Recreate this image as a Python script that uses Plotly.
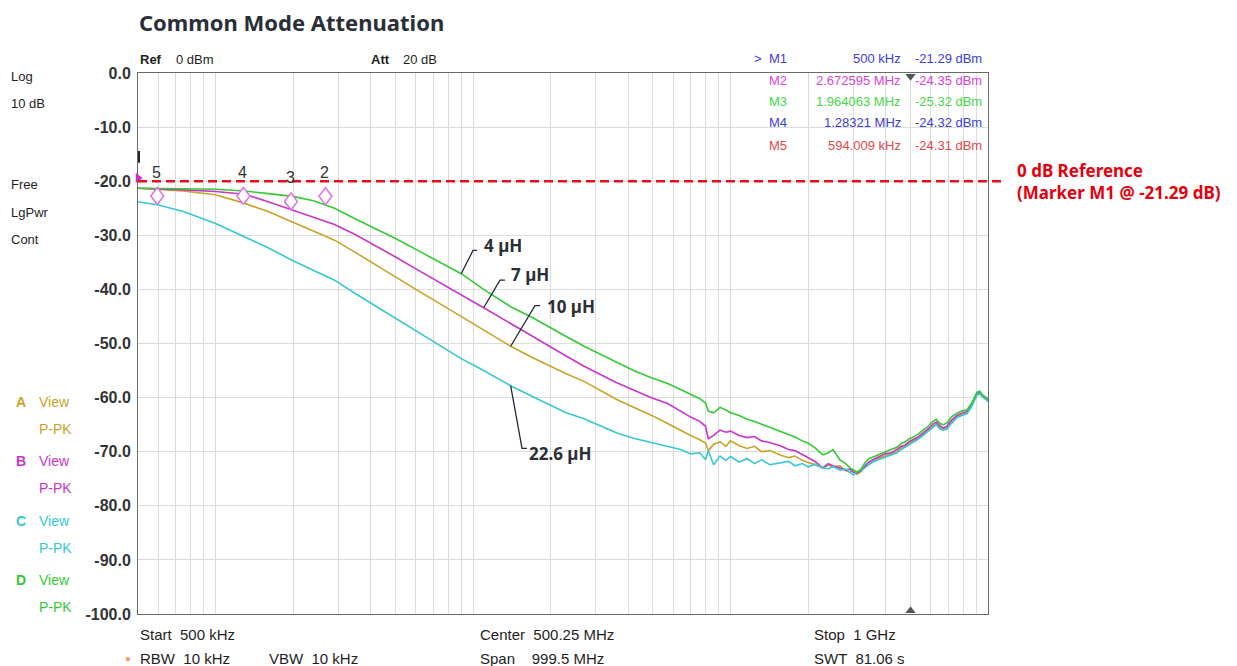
import math
import plotly.graph_objects as go

# ---- sweep data: frequency (MHz) and trace levels (dBm) ----
FREQ_MHZ = [0.5, 0.6, 0.75, 1.0, 1.3, 1.6, 2.0, 2.4, 2.9, 3.5,
            4.0, 5.0, 6.0, 7.0, 9.0, 11, 14, 17, 20, 23,
            27, 31, 36, 42, 49, 57, 64, 70, 76, 80,
            82, 86, 91, 96, 100, 108, 116, 124, 132, 142,
            156, 168, 178, 190, 200, 213, 228, 240, 250, 266,
            280, 291, 300, 310, 322, 333, 345, 357, 375, 398,
            420, 443, 460, 476, 495, 512, 535, 560, 585, 611,
            630, 651, 670, 693, 720, 758, 790, 828, 865, 906,
            930, 948, 975, 1000]

# Trace A: 10 uH
TRACE_A_10UH = [-21.3, -21.5, -21.8, -22.5, -24.1, -25.6, -27.6, -29.2, -30.9, -33.2,
                -34.9, -37.8, -40.0, -41.9, -45.0, -47.6, -50.5, -52.6, -54.2, -55.6,
                -57.0, -58.6, -60.3, -61.8, -63.2, -64.8, -66.1, -67.0, -67.8, -68.4,
                -69.8, -68.6, -68.2, -69.0, -68.0, -68.9, -69.4, -69.0, -70.0, -69.8,
                -70.6, -71.1, -70.8, -71.6, -72.0, -72.4, -73.0, -72.5, -72.8, -72.6,
                -73.5, -73.8, -73.3, -74.2, -73.6, -72.8, -72.3, -71.7, -71.2, -70.8,
                -70.3, -70.0, -69.3, -69.0, -68.4, -68.0, -67.5, -66.8, -66.0, -65.2,
                -64.8, -65.5, -65.8, -65.5, -64.5, -63.5, -63.2, -62.8, -61.5, -59.4,
                -59.2, -59.7, -60.1, -60.6]

# Trace B: 7 uH
TRACE_B_7UH = [-21.3, -21.4, -21.6, -21.9, -22.4, -23.8, -25.4, -26.6, -28.0, -29.9,
               -31.4, -34.0, -36.2, -38.0, -41.0, -43.4, -46.3, -48.7, -50.6, -52.3,
               -54.2, -55.6, -57.2, -58.6, -60.0, -61.1, -62.6, -63.6, -64.4, -65.3,
               -67.6, -67.0, -66.0, -66.4, -66.2, -67.0, -67.4, -67.2, -68.0, -68.3,
               -68.9, -69.6, -69.8, -70.5, -71.1, -71.8, -73.0, -72.2, -72.6, -73.0,
               -73.4, -73.2, -73.8, -74.0, -73.5, -72.6, -71.9, -71.5, -71.0, -70.4,
               -70.2, -69.6, -69.0, -68.8, -68.1, -67.8, -67.3, -66.5, -65.8, -64.9,
               -64.5, -65.2, -65.6, -65.3, -64.2, -63.3, -62.9, -62.6, -61.3, -59.3,
               -59.0, -59.6, -60.0, -60.4]

# Trace C: 22.6 uH
TRACE_C_22UH = [-23.8, -24.4, -25.6, -27.8, -30.3, -32.3, -34.7, -36.4, -38.3, -40.8,
                -42.5, -45.2, -47.6, -49.5, -52.8, -55.0, -57.8, -59.8, -61.4, -62.8,
                -63.9, -65.2, -66.5, -67.5, -68.3, -69.0, -69.6, -70.4, -70.2, -71.5,
                -69.8, -72.4, -70.8, -71.6, -70.9, -71.9, -71.3, -72.2, -71.5, -72.4,
                -72.0, -71.8, -72.6, -72.2, -72.8, -72.3, -72.9, -73.2, -72.7, -73.4,
                -73.2, -73.9, -74.3, -73.8, -73.4, -73.0, -72.4, -71.9, -71.5, -71.0,
                -70.6, -70.2, -69.6, -69.2, -68.7, -68.2, -67.7, -67.0, -66.2, -65.4,
                -65.0, -65.8, -66.0, -65.8, -64.8, -63.7, -63.3, -63.0, -61.6, -59.5,
                -59.3, -59.8, -60.2, -60.7]

# Trace D: 4 uH
TRACE_D_4UH = [-21.3, -21.3, -21.4, -21.5, -21.8, -22.3, -22.8, -23.6, -25.0, -27.0,
               -28.3, -30.6, -32.6, -34.3, -37.1, -40.0, -43.2, -45.2, -47.0, -48.7,
               -50.5, -51.9, -53.5, -55.0, -56.3, -57.4, -58.5, -59.4, -60.2, -61.0,
               -62.5, -62.8, -61.8, -62.3, -62.8, -63.3, -64.0, -64.4, -64.9, -65.5,
               -66.2, -66.9, -67.3, -68.0, -68.4, -69.3, -70.6, -70.2, -69.6, -71.5,
               -72.2, -73.0, -73.4, -73.8, -73.2, -72.0, -71.3, -71.0, -70.5, -70.0,
               -69.6, -69.2, -68.5, -68.2, -67.6, -67.3, -66.8, -66.0, -65.3, -64.4,
               -64.0, -64.8, -65.0, -64.7, -63.6, -62.9, -62.5, -62.3, -61.0, -59.0,
               -58.8, -59.4, -59.8, -60.3]

TRACE_LETTERS = ["A", "B", "C", "D"]
TRACE_LABELS = ["10 µH", "7 µH", "22.6 µH", "4 µH"]
TRACE_VALUES = [TRACE_A_10UH, TRACE_B_7UH, TRACE_C_22UH, TRACE_D_4UH]
TRACE_COLORS = ["#c9a227", "#c935c9", "#35c8d2", "#35c935"]

# Marker table
MARKER_NAMES = ["M1", "M2", "M3", "M4", "M5"]
MARKER_FREQ_MHZ = [0.5, 2.672595, 1.964063, 1.28321, 0.594009]
MARKER_LEVEL_DBM = [-21.29, -24.35, -25.32, -24.32, -24.31]
MARKER_COLORS = ["#3d3dd6", "#d646d6", "#46d646", "#3d3dd6", "#e04848"]

Y_TICKS = [0, -10, -20, -30, -40, -50, -60, -70, -80, -90, -100]
REF_LINE_DB = -20.0
CENTER_MHZ = 500.25

# ---- page geometry ----
W, H = 1237, 666
L, R, T, B = 138, 988, 73, 614
PX_PER_DECADE = (R - L) / math.log10(1000 / 0.5)
PX_PER_DB = (B - T) / 100.0


def px(x):
    return (x - L) / (R - L)


def py(y):
    return (B - y) / (B - T)


def fmt_freq(mhz):
    if mhz < 1:
        return f"{mhz * 1000:.7g} kHz"
    return f"{mhz:.7g} MHz"


UI_FONT = "Liberation Sans"
HEAD_FONT = "Noto Sans"
INK = "#1e1e1e"

fig = go.Figure()

for letter, label, vals, col in zip(TRACE_LETTERS, TRACE_LABELS, TRACE_VALUES, TRACE_COLORS):
    fig.add_trace(go.Scatter(
        x=FREQ_MHZ, y=vals, mode="lines", name=f"{letter}: {label}",
        line=dict(color=col, width=1.6), showlegend=False, hoverinfo="x+y"))

# reference line (extends past the grid toward its label)
fig.add_shape(type="line", xref="paper", yref="y", x0=0, x1=px(1006),
              y0=REF_LINE_DB, y1=REF_LINE_DB,
              line=dict(color="#e5101c", width=2.4, dash="9px,5px"))

# short display marker at the left edge
fig.add_shape(type="line", xref="paper", yref="y", x0=px(139), x1=px(139),
              y0=-14.4, y1=-16.6, line=dict(color="#222", width=2))

# marker diamonds M2..M5: open diamonds whose lower tip sits on the marker level
HALF_W_PX, HALF_H_PX = 6.5, 8.5
kx = 10 ** (HALF_W_PX / PX_PER_DECADE)
hy = HALF_H_PX / PX_PER_DB
for f, v in zip(MARKER_FREQ_MHZ[1:], MARKER_LEVEL_DBM[1:]):
    cy = v + hy
    fig.add_trace(go.Scatter(
        x=[f, f * kx, f, f / kx, f], y=[v, cy, cy + hy, cy, v],
        mode="lines", fill="toself", fillcolor="white", showlegend=False,
        hoverinfo="skip", line=dict(color="#e46ee4", width=1.5)))

# M1 indicator at the left edge
fig.add_trace(go.Scatter(
    x=[MARKER_FREQ_MHZ[0]], y=[MARKER_LEVEL_DBM[0] + 1.9], mode="markers",
    showlegend=False, cliponaxis=False, hoverinfo="skip",
    marker=dict(symbol="triangle-right", size=9, color="#e020e0")))

# center-frequency indicators on the top and bottom frame
fig.add_trace(go.Scatter(
    x=[CENTER_MHZ, CENTER_MHZ], y=[-0.6, -99.4], mode="markers",
    showlegend=False, cliponaxis=False, hoverinfo="skip",
    marker=dict(symbol=["triangle-down", "triangle-up"], size=9, color="#555")))

ann = []

# marker numbers above the diamonds
for name, f, v in zip(MARKER_NAMES[1:], MARKER_FREQ_MHZ[1:], MARKER_LEVEL_DBM[1:]):
    ann.append(dict(x=math.log10(f), y=v, xref="x", yref="y", text=name[1:],
                    showarrow=False, yshift=32, xshift=-1,
                    font=dict(family=UI_FONT, size=16, color="#333")))

# inductance call-outs with elbow leaders
LEADER_START_MHZ = [14, 11, 14, 9.0]
LEADER_ELBOW = [(17.4, -43.0), (12.73, -38.3), (15.5, -69.4), (10.0, -32.8)]
LEADER_END_MHZ = [18.2, 13.31, 16.2, 10.36]
LABEL_POS = [(19.1, -43.1), (13.8, -37.2), (16.2, -70.4), (10.8, -31.9)]
for i, vals in enumerate(TRACE_VALUES):
    f0 = LEADER_START_MHZ[i]
    y0 = vals[FREQ_MHZ.index(f0)]
    ex, ey = LEADER_ELBOW[i]
    fig.add_trace(go.Scatter(
        x=[f0, ex, LEADER_END_MHZ[i]], y=[y0, ey, ey], mode="lines",
        showlegend=False, hoverinfo="skip",
        line=dict(color="#1f2b3a", width=1.3)))
    lx, ly = LABEL_POS[i]
    ann.append(dict(x=math.log10(lx), y=ly, xref="x", yref="y",
                    text=f"<b>{TRACE_LABELS[i]}</b>", showarrow=False,
                    xanchor="left", yanchor="middle",
                    font=dict(family=HEAD_FONT, size=17, color="#2a2e35")))


def text_at(x, y, s, color=INK, size=13, anchor="left", family=UI_FONT, bold=False,
            align="left"):
    ann.append(dict(x=px(x), y=py(y), xref="paper", yref="paper",
                    text=f"<b>{s}</b>" if bold else s, showarrow=False,
                    xanchor=anchor, yanchor="middle", align=align,
                    font=dict(family=family, size=size, color=color)))


# title
text_at(137, 22, "Common Mode Attenuation", color="#2a2e37", size=22,
        family=HEAD_FONT, bold=True)

# header row
text_at(138, 60, "Ref", bold=True)
text_at(174, 60, "0 dBm")
text_at(369, 60, "Att", bold=True)
text_at(401, 60, "20 dB")

# marker table
ROW_Y = [58, 80, 101, 123, 145]
for i, name in enumerate(MARKER_NAMES):
    c = MARKER_COLORS[i]
    if i == 0:
        text_at(752, ROW_Y[i], ">", color=c)
    text_at(767, ROW_Y[i], name, color=c)
    text_at(903, ROW_Y[i], fmt_freq(MARKER_FREQ_MHZ[i]), color=c, anchor="right")
    text_at(984, ROW_Y[i], f"{MARKER_LEVEL_DBM[i]:.2f} dBm", color=c, anchor="right")

# reference line label (two lines in one block)
text_at(1015, 181,
        f"0 dB Reference<br>(Marker M1 @ {MARKER_LEVEL_DBM[0]:.2f} dB)",
        color="#e3000f", size=17, family=HEAD_FONT, bold=True)

# left status column
for s, y in [("Log", 77), ("10 dB", 103), ("Free", 185), ("LgPwr", 212), ("Cont", 239)]:
    text_at(9, y, s)

# trace legend column
LEGEND_Y = [402, 461, 521, 580]
for letter, col, y in zip(TRACE_LETTERS, TRACE_COLORS, LEGEND_Y):
    text_at(14, y, letter, color=col, size=14, bold=True)
    text_at(37, y, "View", color=col, size=14)
    text_at(37, y + 27, "P-PK", color=col, size=14)

# bottom settings rows
text_at(138, 634, "Start  500 kHz", size=15)
text_at(478, 634, "Center  500.25 MHz", size=15)
text_at(812, 634, "Stop  1 GHz", size=15)
text_at(138, 658, "RBW  10 kHz", size=15)
text_at(267, 658, "VBW  10 kHz", size=15)
text_at(478, 658, "Span    999.5 MHz", size=15)
text_at(812, 658, "SWT  81.06 s", size=15)
text_at(128, 658, "●", color="#f5a068", size=10, anchor="center")

fig.update_layout(
    width=W, height=H,
    margin=dict(l=L, r=W - R, t=T, b=H - B),
    paper_bgcolor="white", plot_bgcolor="white",
    annotations=ann,
    xaxis=dict(type="log", range=[math.log10(0.5), math.log10(1000)],
               dtick="D1", showticklabels=False, ticks="",
               showgrid=True, gridcolor="#dcdcdc", gridwidth=1,
               showline=True, linecolor="#6a6a6a", linewidth=1, mirror=True,
               zeroline=False),
    yaxis=dict(range=[-100, 0], tickvals=Y_TICKS,
               ticktext=[f"{v:.1f}" for v in Y_TICKS], ticks="",
               ticklabelstandoff=3,
               tickfont=dict(family=UI_FONT, size=16, color="#333", weight="bold"),
               showgrid=True, gridcolor="#dcdcdc", gridwidth=1,
               showline=True, linecolor="#6a6a6a", linewidth=1, mirror=True,
               zeroline=False),
)

fig.write_html("out.html")
